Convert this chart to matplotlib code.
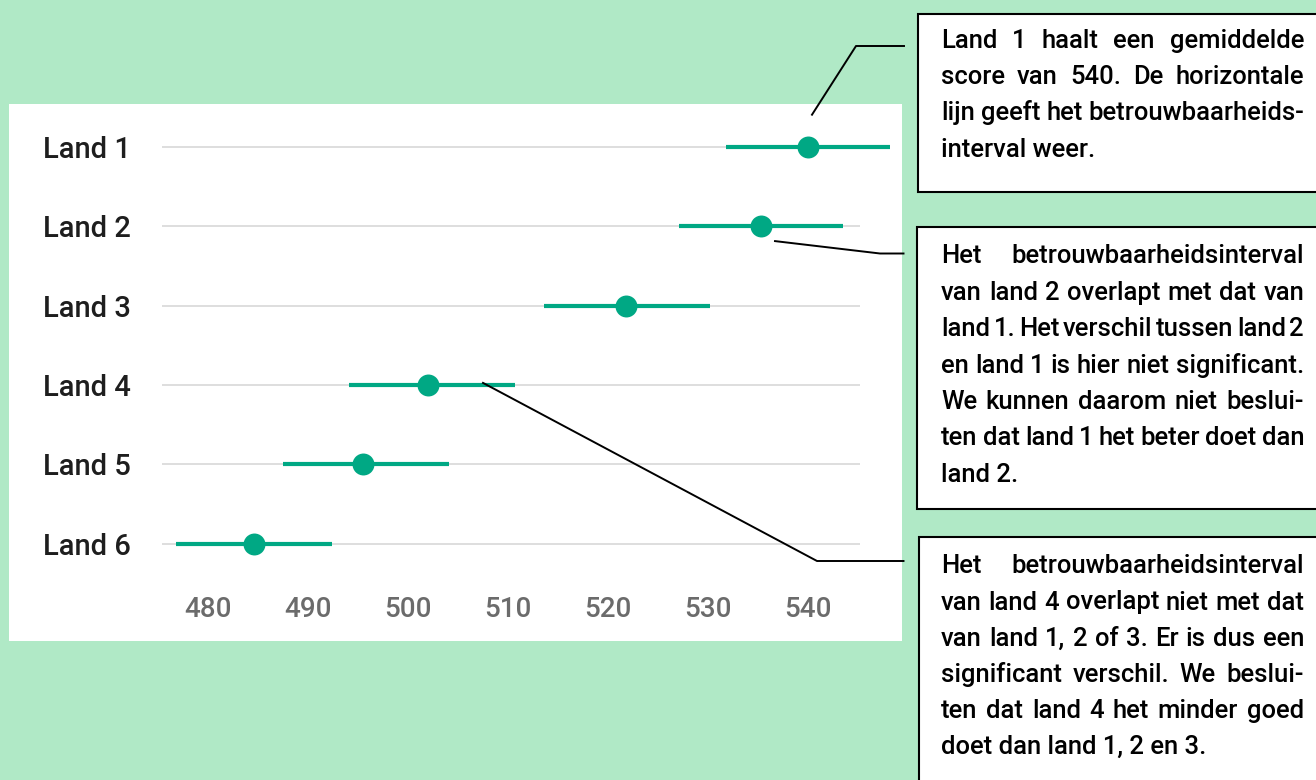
import matplotlib
matplotlib.use("Agg")
import matplotlib.pyplot as plt
from matplotlib import font_manager
from matplotlib.patches import Rectangle
from matplotlib.lines import Line2D

W, H = 1316, 780

# scores per country with the bounds of the confidence interval
countries = ["Land 1", "Land 2", "Land 3", "Land 4", "Land 5", "Land 6"]
means = [540.0, 535.3, 521.8, 502.0, 495.5, 484.6]
ci_low = [531.8, 527.1, 513.6, 494.1, 487.5, 476.8]
ci_high = [548.2, 543.5, 530.2, 510.7, 504.1, 492.4]
x_ticks = [480, 490, 500, 510, 520, 530, 540]

note_1 = [
    "Land 1 haalt een gemiddelde",
    "score van 540. De horizontale",
    "lijn geeft het betrouwbaarheids-",
    "interval weer.",
]
note_2 = [
    "Het betrouwbaarheidsinterval",
    "van land 2 overlapt met dat van",
    "land 1. Het verschil tussen land 2",
    "en land 1 is hier niet significant.",
    "We kunnen daarom niet beslui-",
    "ten dat land 1 het beter doet dan",
    "land 2.",
]
note_3 = [
    "Het betrouwbaarheidsinterval",
    "van land 4 overlapt niet met dat",
    "van land 1, 2 of 3. Er is dus een",
    "significant verschil. We beslui-",
    "ten dat land 4 het minder goed",
    "doet dan land 1, 2 en 3.",
]

BG = "#b0e9c6"
TEAL = "#00a884"


def pick_font(names):
    installed = {f.name for f in font_manager.fontManager.ttflist}
    for n in names:
        if n in installed:
            return n
    return "DejaVu Sans"


FONT = pick_font(["Roboto", "Open Sans", "Lato", "DejaVu Sans"])
plt.rcParams["font.family"] = [FONT, "DejaVu Sans"]


def fx(x):
    return x / W


def fy(y):
    return 1 - y / H


fig = plt.figure(figsize=(W / 100, H / 100), dpi=100, facecolor=BG)
renderer = fig.canvas.get_renderer()

# white card behind the chart
fig.add_artist(Rectangle((fx(9), fy(641)), fx(902) - fx(9), fy(104) - fy(641),
                         transform=fig.transFigure, facecolor="white",
                         edgecolor="none", zorder=0))

ax = fig.add_axes([fx(162), fy(583.4), (860 - 162) / W, (583.4 - 107) / H])
ax.set_facecolor("none")
rows = list(range(1, len(countries) + 1))

ax.hlines(rows, ci_low, ci_high, color=TEAL, lw=3, zorder=3, clip_on=False)
ax.plot(means, rows, "o", ms=15.8, color=TEAL, mec="none", zorder=4, clip_on=False)

ax.set_xlim(475.4, 545.2)
ax.set_ylim(len(countries) + 0.5, 0.5)
ax.set_xticks(x_ticks)
ax.set_yticks(rows)
ax.set_yticklabels(countries)
ax.grid(axis="y", color="#dedede", lw=1.4)
ax.set_axisbelow(True)
for s in ax.spines.values():
    s.set_visible(False)

ax.tick_params(axis="x", length=0, pad=9, labelsize=20, labelcolor="#6b6b6b")
ax.tick_params(axis="y", length=0, pad=85.7, labelsize=21, labelcolor="#1e1e1e")
for lab in ax.get_yticklabels():
    lab.set_horizontalalignment("left")
    lab.set_fontweight(500)
for lab in ax.get_xticklabels():
    lab.set_fontweight(500)


def data_px(x, y):
    dx, dy = ax.transData.transform((x, y))
    return dx, H - dy


def connector(points):
    xs = [fx(p[0]) for p in points]
    ys = [fy(p[1]) for p in points]
    fig.add_artist(Line2D(xs, ys, transform=fig.transFigure, color="black",
                          lw=1.4, zorder=5))


# leader lines from the marks to the notes
px, py = data_px(means[0], rows[0])
connector([(px + 4, py - 32), (856, 46), (904, 46)])
px, py = data_px(means[1], rows[1])
connector([(px + 14, py + 15), (880, 253.5), (903.5, 253.5)])
px, py = data_px(means[3], rows[3])
connector([(px + 55, py - 2), (817, 561), (903.5, 561)])

# note boxes
for top, bottom, left in [(14, 192, 918), (226.7, 509.3, 917.3), (536.7, 800, 918.5)]:
    fig.add_artist(Rectangle((fx(left), fy(bottom)), fx(1340) - fx(left),
                             fy(top) - fy(bottom), transform=fig.transFigure,
                             facecolor="white", edgecolor="black", lw=1.5,
                             zorder=4))

TX0, TX1 = 941, 1304
NOTE_W = 500


def text_width(s, size):
    t = fig.text(0, 0, s, fontsize=size, fontweight=NOTE_W)
    w = t.get_window_extent(renderer).width
    t.remove()
    return w


# size the note text so every justified line keeps a small word gap
full_lines = [l for note in (note_1, note_2, note_3) for l in note[:-1]]
min_gap = 0.14 * 10 * 100 / 72
need = max(sum(text_width(w, 10) for w in l.split(" ")) + (len(l.split(" ")) - 1) * min_gap
           for l in full_lines)
note_size = min(18.6, 10 * (TX1 - TX0) / need)


def justified(lines, first_base, step):
    for i, line in enumerate(lines):
        base = first_base + i * step
        words = line.split(" ")
        if i == len(lines) - 1 or len(words) == 1:
            fig.text(fx(TX0), fy(base), line, fontsize=note_size,
                     fontweight=NOTE_W, va="baseline", ha="left", zorder=6)
            continue
        widths = [text_width(w, note_size) for w in words]
        gap = (TX1 - TX0 - sum(widths)) / (len(words) - 1)
        x = TX0
        for w, wd in zip(words, widths):
            fig.text(fx(x), fy(base), w, fontsize=note_size, fontweight=NOTE_W,
                     va="baseline", ha="left", zorder=6)
            x += wd + gap


justified(note_1, 47.7, 36.3)
justified(note_2, 263.3, 36.4)
justified(note_3, 573.3, 36.2)

fig.savefig("out.png", dpi=100, facecolor=BG)
